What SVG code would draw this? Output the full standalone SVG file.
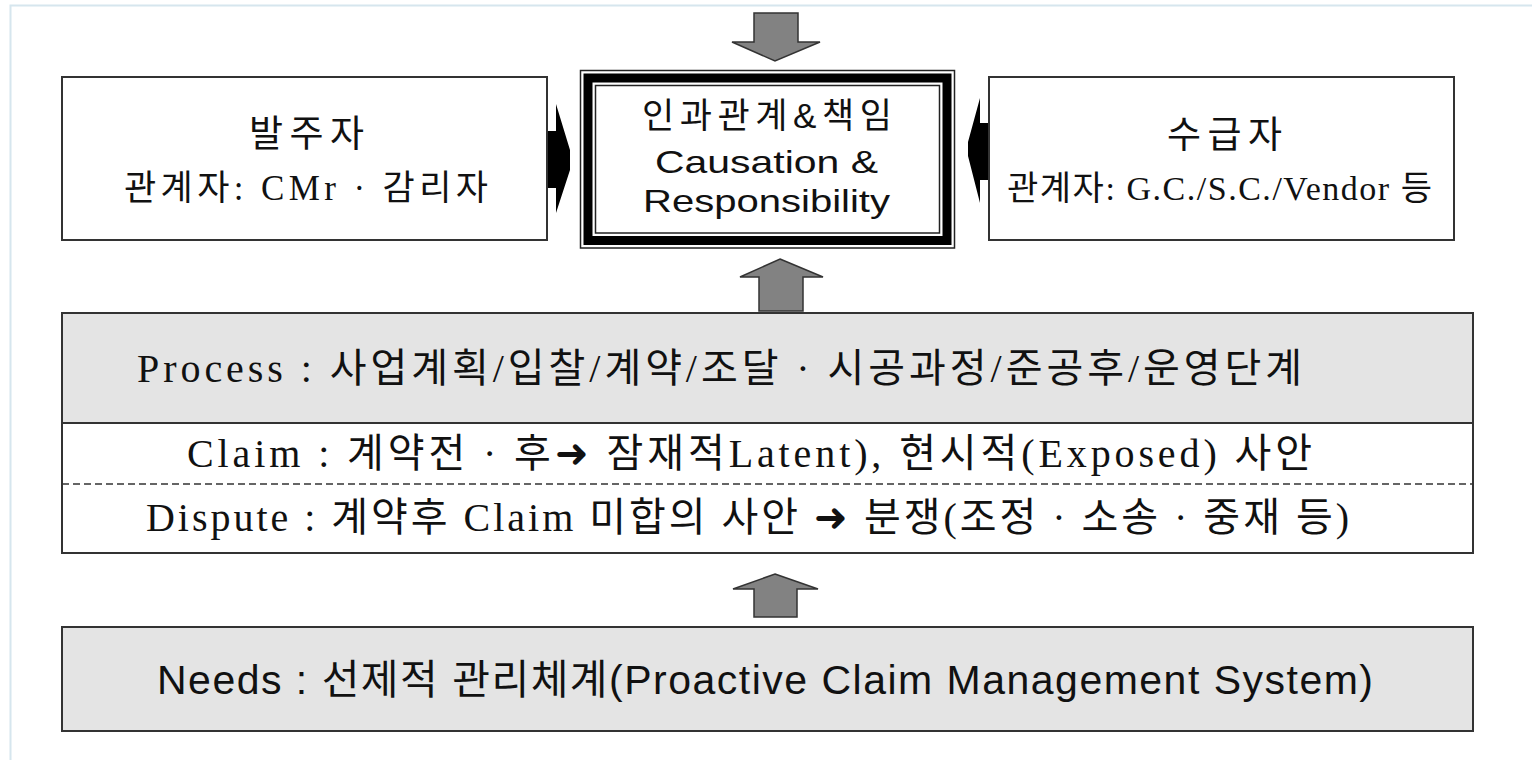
<svg xmlns="http://www.w3.org/2000/svg" width="1532" height="760" viewBox="0 0 1532 760">
  <style>
    .box { fill: #ffffff; stroke: #333333; stroke-width: 2; }
    .gbox { fill: #e4e4e4; stroke: #333333; stroke-width: 2; }
    .garrow { fill: #828282; stroke: #333333; stroke-width: 1.5; stroke-linejoin: miter; }
    .barrow { fill: #000000; stroke: none; }
    .serif { font-family: "Liberation Serif", "Noto Sans CJK KR", serif; fill: #111111; }
    .sans { font-family: "Liberation Sans", "Noto Sans CJK KR", sans-serif; fill: #111111; }
  </style>
  <rect x="0" y="0" width="1532" height="760" fill="#ffffff"/>
  <path d="M10.5,760 V5.5 H1532" fill="none" stroke="#d6e6ee" stroke-width="2"/>

  <g id="connectors">
    <polygon class="garrow" points="754,13 798,13 798,42 820,42 775,61 732,42 754,42"/>
    <polygon class="garrow" points="780,259 823,277 803,277 803,311 759,311 759,277 740,277"/>
    <polygon class="garrow" points="775,574 818,589 797,589 797,617 754,617 754,589 733,589"/>
    <path class="barrow" d="M546,131 H556 V104 L570,150 V170 L556,213 V188 H546 Z"/>
    <path class="barrow" d="M989,123 H980 V98 L968,142 V156 L980,203 V180 H989 Z"/>
  </g>

  <g id="owner">
    <rect class="box" x="62" y="77" width="485" height="163"/>
    <text class="serif" x="249" y="147" font-size="37" textLength="115">발주자</text>
    <text class="serif" x="124" y="200" font-size="35" textLength="364">관계자: CMr · 감리자</text>
  </g>

  <g id="causation">
    <rect x="580.5" y="70.5" width="374" height="177.5" fill="#ffffff" stroke="#222222" stroke-width="1.5"/>
    <rect x="588" y="78" width="359" height="162.5" fill="none" stroke="#000000" stroke-width="9"/>
    <rect x="595.5" y="85.5" width="344" height="147.5" fill="#ffffff" stroke="#222222" stroke-width="1.5"/>
    <text class="sans" x="642" y="128" font-size="35" textLength="250">인과관계&amp;책임</text>
    <text class="sans" x="655" y="173" font-size="32" textLength="223" lengthAdjust="spacingAndGlyphs">Causation &amp;</text>
    <text class="sans" x="643" y="212" font-size="32" textLength="247" lengthAdjust="spacingAndGlyphs">Responsibility</text>
  </g>

  <g id="contractor">
    <rect class="box" x="989" y="77" width="465" height="163"/>
    <text class="serif" x="1167" y="148" font-size="37" textLength="115">수급자</text>
    <text class="serif" x="1007" y="200" font-size="34" textLength="425">관계자: G.C./S.C./Vendor 등</text>
  </g>

  <g id="process">
    <rect class="gbox" x="62" y="313" width="1411" height="110"/>
    <text class="serif" x="137" y="382" font-size="40" textLength="1165">Process : 사업계획/입찰/계약/조달 · 시공과정/준공후/운영단계</text>
  </g>

  <g id="claim-dispute">
    <rect class="box" x="62" y="423" width="1411" height="130"/>
    <line x1="62" y1="484" x2="1473" y2="484" stroke="#333333" stroke-width="1.5" stroke-dasharray="7 4"/>
    <text class="serif" x="187" y="467" font-size="40" textLength="1125">Claim : 계약전 · 후➜ 잠재적Latent), 현시적(Exposed) 사안</text>
    <text class="serif" x="146" y="531" font-size="40" textLength="1203">Dispute : 계약후 Claim 미합의 사안 ➜ 분쟁(조정 · 소송 · 중재 등)</text>
  </g>

  <g id="needs">
    <rect class="gbox" x="62" y="627" width="1411" height="104"/>
    <text class="sans" x="157" y="694" font-size="41" textLength="1216">Needs : 선제적 관리체계(Proactive Claim Management System)</text>
  </g>
</svg>
